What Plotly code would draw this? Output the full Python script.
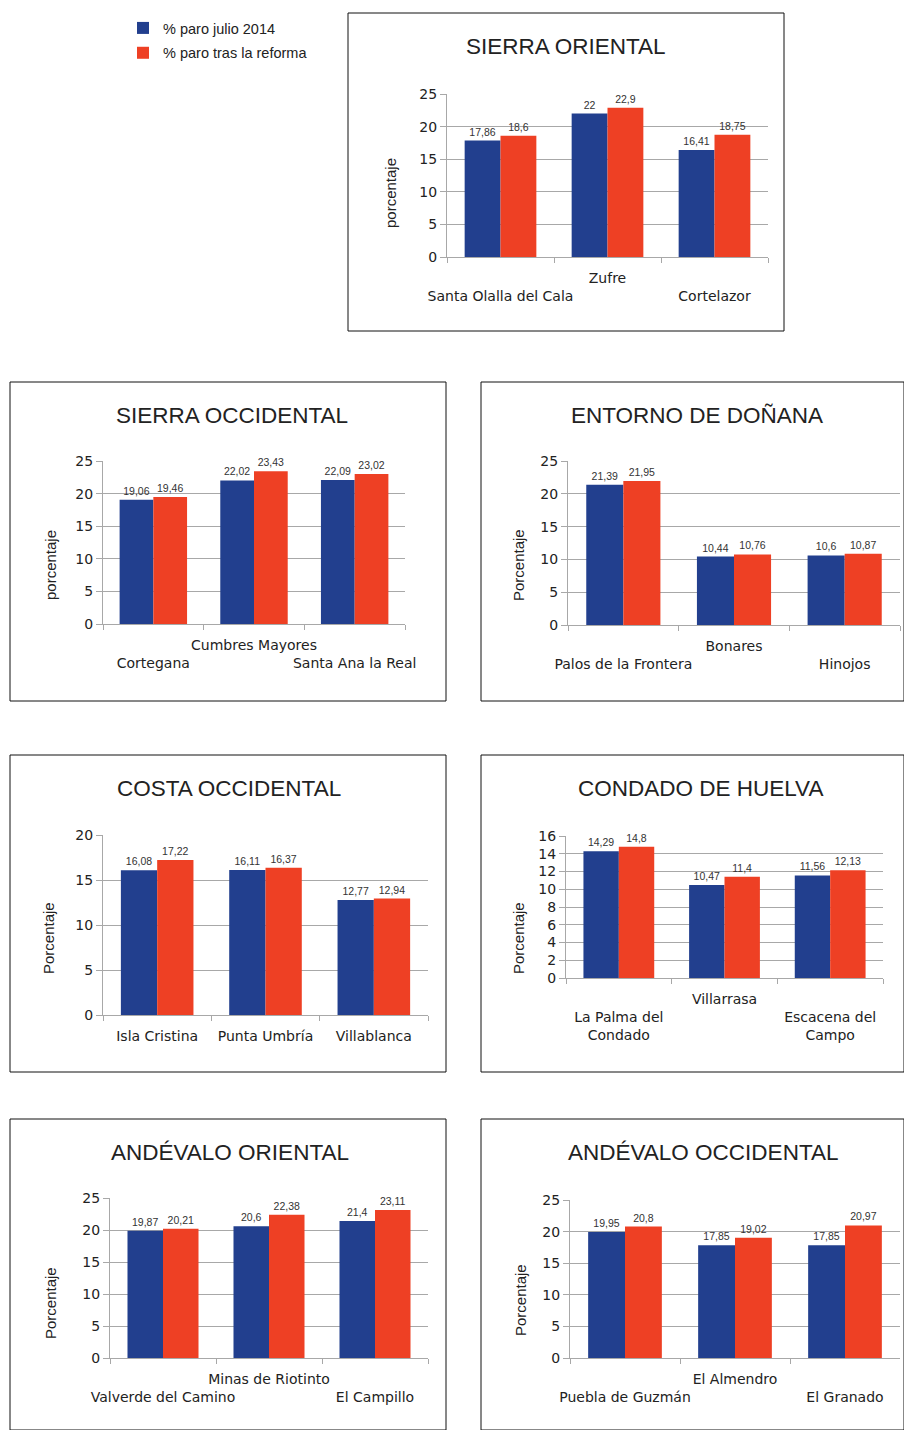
import plotly.graph_objects as go

W, H = 904, 1430

# ---------------- data ----------------
series_names = ["% paro julio 2014", "% paro tras la reforma"]

so_title = "SIERRA ORIENTAL"
so_cats = ["Santa Olalla del Cala", "Zufre", "Cortelazor"]
so_julio = [17.86, 22, 16.41]
so_reforma = [18.6, 22.9, 18.75]

socc_title = "SIERRA OCCIDENTAL"
socc_cats = ["Cortegana", "Cumbres Mayores", "Santa Ana la Real"]
socc_julio = [19.06, 22.02, 22.09]
socc_reforma = [19.46, 23.43, 23.02]

ed_title = "ENTORNO DE DOÑANA"
ed_cats = ["Palos de la Frontera", "Bonares", "Hinojos"]
ed_julio = [21.39, 10.44, 10.6]
ed_reforma = [21.95, 10.76, 10.87]

co_title = "COSTA OCCIDENTAL"
co_cats = ["Isla Cristina", "Punta Umbría", "Villablanca"]
co_julio = [16.08, 16.11, 12.77]
co_reforma = [17.22, 16.37, 12.94]

ch_title = "CONDADO DE HUELVA"
ch_cats = ["La Palma del Condado", "Villarrasa", "Escacena del Campo"]
ch_julio = [14.29, 10.47, 11.56]
ch_reforma = [14.8, 11.4, 12.13]

ao_title = "ANDÉVALO ORIENTAL"
ao_cats = ["Valverde del Camino", "Minas de Riotinto", "El Campillo"]
ao_julio = [19.87, 20.6, 21.4]
ao_reforma = [20.21, 22.38, 23.11]

aocc_title = "ANDÉVALO OCCIDENTAL"
aocc_cats = ["Puebla de Guzmán", "El Almendro", "El Granado"]
aocc_julio = [19.95, 17.85, 17.85]
aocc_reforma = [20.8, 19.02, 20.97]

# ---------------- layout helpers ----------------
BLUE = "#223f8e"
RED = "#ee4024"
FONT = "Liberation Sans"
TICKFONT = "DejaVu Sans"
TXT = "#222222"
GRID = "#a8a8a8"

wrap = {"La Palma del Condado": "La Palma del<br>Condado",
        "Escacena del Campo": "Escacena del<br>Campo"}


def px(x):
    return x / W


def py(y):
    return 1 - y / H


# panel: (title, cats, julio, reforma, ytitle, ymax, dtick, stagger,
#         plot box (x0, x1, ytop, ybottom), frame (x0, y0, x1, y1),
#         title pos, ytitle pos)
panels = [
    (so_title, so_cats, so_julio, so_reforma, "porcentaje", 25, 5, True,
     (447, 768, 94, 257), (348, 13, 784, 331), (566, 47), (390, 193)),
    (socc_title, socc_cats, socc_julio, socc_reforma, "porcentaje", 25, 5, True,
     (103, 405, 461, 624), (10, 382, 446, 701), (232, 415), (50, 565)),
    (ed_title, ed_cats, ed_julio, ed_reforma, "Porcentaje", 25, 5, True,
     (568, 900, 461, 625), (481, 382, 904, 701), (697, 415), (518, 565)),
    (co_title, co_cats, co_julio, co_reforma, "Porcentaje", 20, 5, False,
     (103, 428, 835, 1015), (10, 755, 446, 1072), (229, 788), (48, 938)),
    (ch_title, ch_cats, ch_julio, ch_reforma, "Porcentaje", 16, 2, True,
     (566, 883, 836, 978), (481, 755, 904, 1072), (700, 788), (518, 938)),
    (ao_title, ao_cats, ao_julio, ao_reforma, "Porcentaje", 25, 5, True,
     (110, 428, 1198, 1358), (10, 1119, 446, 1430), (230, 1152), (50, 1303)),
    (aocc_title, aocc_cats, aocc_julio, aocc_reforma, "Porcentaje", 25, 5, True,
     (570, 900, 1200, 1358), (481, 1119, 904, 1430), (703, 1152), (520, 1300)),
]

fig = go.Figure()
shapes = []
annotations = []
layout_axes = {}

for i, (title, cats, julio, reforma, ytitle, ymax, dtick, stagger,
        box, frame, tpos, ytpos) in enumerate(panels):
    n = i + 1
    xa = "x" if n == 1 else f"x{n}"
    ya = "y" if n == 1 else f"y{n}"
    for k, (name, vals, col) in enumerate(((series_names[0], julio, BLUE),
                                           (series_names[1], reforma, RED))):
        fig.add_trace(go.Bar(
            x=cats, y=vals, name=name, marker_color=col,
            marker_line_width=0, legendgroup=f"g{k}",
            xaxis=xa, yaxis=ya, showlegend=(n == 1),
            texttemplate="%{y}", textposition="outside",
            textfont=dict(size=10.5, color="#333", family=FONT),
            cliponaxis=False, hoverinfo="x+y+name",
        ))
    ticktext = []
    for j, c in enumerate(cats):
        lab = wrap.get(c, c)
        if stagger and j != 1:
            lab = "<br>" + lab
        ticktext.append(lab)
    x0, x1, ytop, ybot = box
    xkey = "xaxis" if n == 1 else f"xaxis{n}"
    ykey = "yaxis" if n == 1 else f"yaxis{n}"
    layout_axes[xkey] = dict(
        domain=[px(x0), px(x1)], anchor=ya, type="category",
        tickmode="array", tickvals=cats, ticktext=ticktext,
        tickson="boundaries", ticks="outside", ticklen=5, tickcolor=GRID,
        ticklabelstandoff=8,
        showgrid=False, showline=True, linecolor=GRID, zeroline=False,
        tickfont=dict(size=14, color=TXT, family=TICKFONT), tickangle=0,
        fixedrange=True, automargin=False,
    )
    layout_axes[ykey] = dict(
        domain=[py(ybot), py(ytop)], anchor=xa, range=[0, ymax],
        dtick=dtick, showgrid=True, gridcolor=GRID, gridwidth=1,
        showline=True, linecolor=GRID, ticks="outside", ticklen=6,
        tickcolor=GRID, zeroline=False,
        tickfont=dict(size=14, color=TXT, family=TICKFONT), fixedrange=True,
        automargin=False,
    )
    fx0, fy0, fx1, fy1 = frame
    shapes.append(dict(type="rect", xref="paper", yref="paper",
                       x0=px(fx0), x1=px(fx1), y0=py(fy1), y1=py(fy0),
                       line=dict(color="#111", width=1), layer="below"))
    annotations.append(dict(text=title, x=px(tpos[0]), y=py(tpos[1]),
                            xref="paper", yref="paper", showarrow=False,
                            xanchor="center", yanchor="middle",
                            font=dict(size=22.5, color=TXT, family=FONT)))
    annotations.append(dict(text=ytitle, x=px(ytpos[0]), y=py(ytpos[1]),
                            xref="paper", yref="paper", showarrow=False,
                            textangle=-90, xanchor="center", yanchor="middle",
                            font=dict(size=15, color=TXT, family=FONT)))

fig.update_layout(
    template="none",
    width=W, height=H, margin=dict(l=0, r=0, t=0, b=0, autoexpand=False),
    paper_bgcolor="white", plot_bgcolor="white",
    barmode="group", bargap=0.33, bargroupgap=0,
    separators=",.",
    font=dict(family=FONT, color=TXT),
    shapes=shapes, annotations=annotations,
    legend=dict(x=px(123), y=py(12), xanchor="left", yanchor="top",
                bgcolor="rgba(0,0,0,0)", tracegroupgap=3,
                font=dict(size=14.5, color=TXT, family=FONT),
                itemwidth=30),
    **layout_axes,
)

fig.write_html("out.html", config={"displayModeBar": False},
               post_script="document.body.style.margin='0';")
